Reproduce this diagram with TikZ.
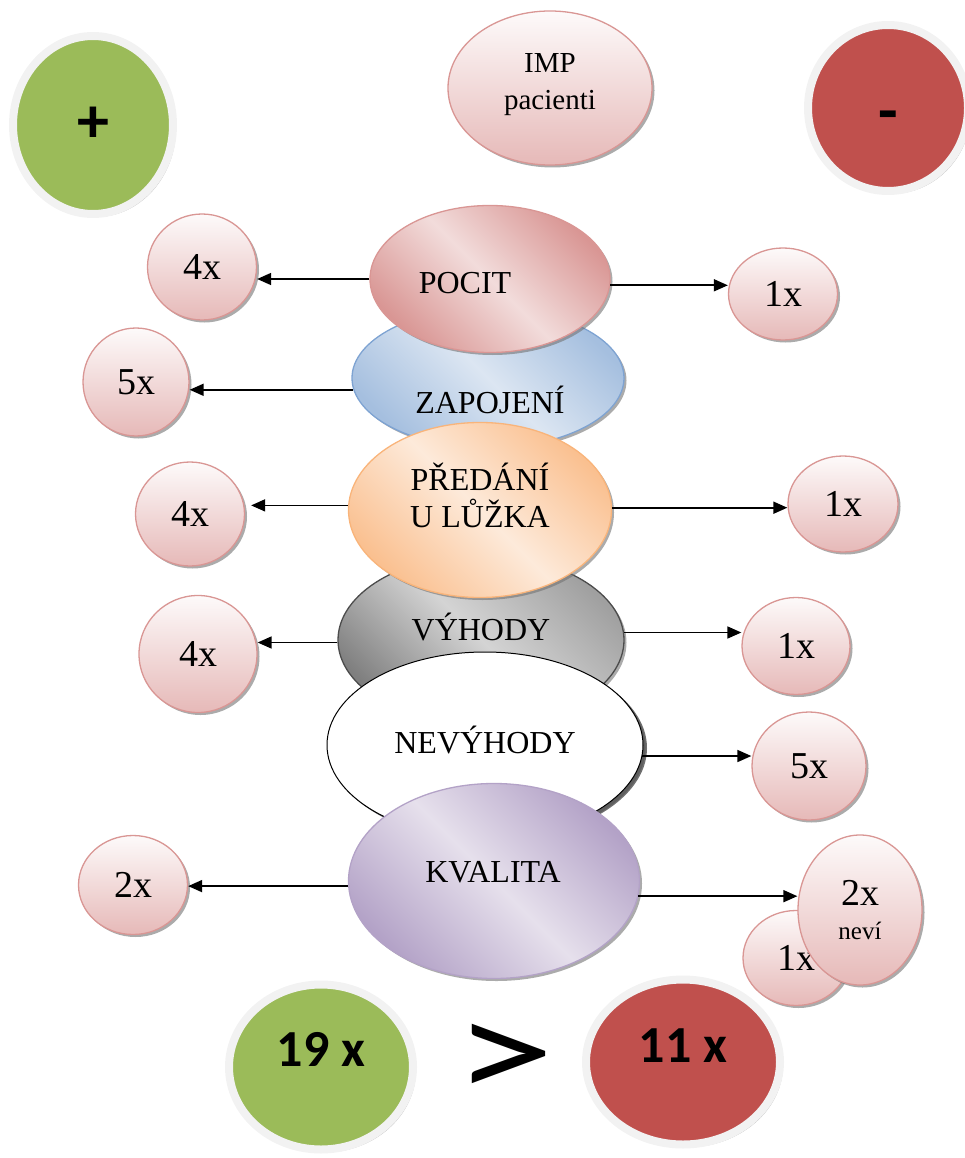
\documentclass[tikz,border=0pt]{standalone}
\usepackage{fontspec}
\setmainfont{Liberation Serif}
\newfontfamily\calfont{Carlito}
\usetikzlibrary{shapes.geometric,shadows,arrows.meta,calc}
\definecolor{pinkd}{HTML}{D99694}
\definecolor{pinkl}{HTML}{F2DCDB}
\definecolor{pinkb}{HTML}{E6B9B8}
\definecolor{pinkt}{HTML}{FDFAFA}
\definecolor{blued}{HTML}{A5BFDF}
\definecolor{bluel}{HTML}{DCE6F2}
\definecolor{blueb}{HTML}{7EA3D2}
\definecolor{orad}{HTML}{FAC090}
\definecolor{oral}{HTML}{FDEADA}
\definecolor{orab}{HTML}{F9B47A}
\definecolor{grayd}{HTML}{7F7F7F}
\definecolor{grayl}{HTML}{D4D4D4}
\definecolor{graym}{HTML}{A0A0A0}
\definecolor{purd}{HTML}{B3A2C7}
\definecolor{purl}{HTML}{E6E0EC}
\definecolor{greenf}{HTML}{9BBB59}
\definecolor{redf}{HTML}{C0504D}
\definecolor{ringc}{HTML}{F2F2F2}
\begin{document}
\begin{tikzpicture}[x=1pt,y=-1pt,
  shd/.style={drop shadow={shadow xshift=2.5pt,shadow yshift=-2.5pt,fill=black!55,opacity=0.6}},
  small/.style={ellipse,draw=pinkd,line width=1.3pt,top color=pinkt,bottom color=pinkb,
    inner sep=0pt,shd,font=\fontsize{38}{40}\selectfont},
  big/.style={ellipse,line width=1.3pt,inner sep=0pt,shd},
  lab/.style={font=\fontsize{32}{37}\selectfont,align=center,inner sep=0pt},
  sumlab/.style={font=\calfont\bfseries\fontsize{52}{52}\selectfont,inner sep=0pt},
  signlab/.style={font=\calfont\bfseries\fontsize{64}{64}\selectfont,inner sep=0pt},
  ring/.style={ellipse,draw=ringc,line width=8pt,inner sep=0pt,
    drop shadow={shadow xshift=3pt,shadow yshift=-3pt,fill=black!45,opacity=0.6}},
  arr/.style={line width=1.7pt,-{Triangle[length=14pt,width=12pt]}}]
\useasboundingbox (0,0) rectangle (965,1158);

% top row
\node[ring,fill=greenf,minimum width=160pt,minimum height=178pt,
  label={[signlab]center:+}] (plus) at (93,125) {};
\node[ring,fill=redf,minimum width=160pt,minimum height=166pt,
  label={[signlab,yshift=-14pt]center:-}] (minus) at (888,108) {};
\node[small,minimum width=204pt,minimum height=154pt,
  label={[align=center,inner sep=0pt,font=\fontsize{29}{37}\selectfont,yshift=3pt]center:IMP\\pacienti}] (imp) at (550,88) {};

% central stack
\node[big,draw=blueb,left color=blued,right color=blued,middle color=bluel,shading angle=135,
  minimum width=272pt,minimum height=140pt,
  label={[lab,xshift=2pt,yshift=-22pt]center:ZAPOJENÍ}] (zap) at (488,378) {};
\node[big,draw=pinkd,left color=pinkd,right color=pinkd,middle color=pinkl,shading angle=135,
  minimum width=240pt,minimum height=147pt,
  label={[lab,xshift=-25pt,yshift=-4pt]center:POCIT}] (pocit) at (490,279) {};
\node[big,draw=black!70,left color=grayd,right color=graym,middle color=grayl,shading angle=135,
  minimum width=286pt,minimum height=170pt,
  label={[lab,yshift=13pt]center:VÝHODY}] (vyh) at (481,640) {};
\node[big,draw=orab,left color=orad,right color=orad,middle color=oral,shading angle=135,
  minimum width=263pt,minimum height=175pt,
  label={[lab,yshift=15pt]center:PŘEDÁNÍ\\U LŮŽKA}] (pred) at (480,510) {};
\node[big,draw=black,fill=white,line width=1pt,
  drop shadow={shadow xshift=4pt,shadow yshift=-3pt,fill=black!70,opacity=0.8},
  minimum width=316pt,minimum height=186pt,
  label={[lab,yshift=5pt]center:NEVÝHODY}] (nevyh) at (485,745) {};
\node[big,draw=purd,left color=purd,right color=purd,middle color=purl,shading angle=135,
  minimum width=291pt,minimum height=195pt,
  label={[lab,xshift=-1pt,yshift=9pt]center:KVALITA}] (kval) at (494,881) {};

% small circles left
\node[small,minimum width=109pt,minimum height=106pt] (p4) at (202,267) {4x};
\node[small,minimum width=106pt,minimum height=108pt] (z5) at (136,382) {5x};
\node[small,minimum width=109pt,minimum height=104pt] (r4) at (190,514) {4x};
\node[small,minimum width=118pt,minimum height=117pt] (v4) at (198,654) {4x};
\node[small,minimum width=109pt,minimum height=99pt] (k2) at (133,885) {2x};

% small circles right
\node[small,minimum width=109pt,minimum height=92pt] (p1) at (783,294) {1x};
\node[small,minimum width=110pt,minimum height=96pt] (r1) at (843,504) {1x};
\node[small,minimum width=108pt,minimum height=97pt] (v1) at (796,646) {1x};
\node[small,minimum width=114pt,minimum height=108pt] (n5) at (809,766) {5x};
\node[small,minimum width=106pt,minimum height=95pt] (k1) at (796,958) {1x};
\node[small,minimum width=124pt,minimum height=150pt,align=center] (k2n) at (860,910)
  {2x\\[-6pt]{\fontsize{25}{28}\selectfont neví}};

% arrows
\draw[arr] (pocit.west) -- (pocit.west -| p4.east);
\draw[arr] (pocit.-3) -- (pocit.-3 -| p1.west);
\draw[arr] (zap.185) -- (zap.185 -| z5.east);
\draw[arr] (pred.178) -- ([xshift=6pt]pred.178 -| r4.east);
\draw[arr] (pred.1) -- (pred.1 -| r1.west);
\draw[arr] (vyh.181) -- (vyh.181 -| v4.east);
\draw[arr] (vyh.3) -- (vyh.3 -| v1.west);
\draw[arr] (nevyh.-4) -- (nevyh.-4 -| n5.west);
\draw[arr] (kval.182) -- (kval.182 -| k2.east);
\draw[arr] (kval.-6) -- (kval.-6 -| k2n.west);

% bottom
\node[ring,fill=greenf,minimum width=184pt,minimum height=165pt,
  label={[sumlab,yshift=18pt]center:19 x}] (sum19) at (321,1067) {};
\node[ring,fill=redf,minimum width=194pt,minimum height=165pt,
  label={[sumlab,yshift=16pt]center:11 x}] (sum11) at (683,1062) {};
\node[font=\calfont\fontsize{115}{115}\selectfont,inner sep=0pt] (gt) at (505,1062) {\scalebox{1.75}[1.25]{>}};
\end{tikzpicture}
\end{document}
